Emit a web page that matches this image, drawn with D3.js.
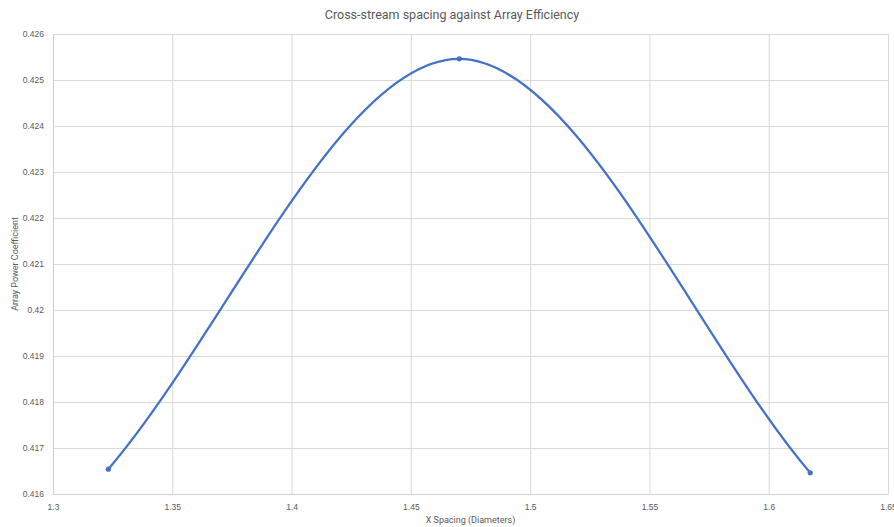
<!DOCTYPE html>
<html>
<head>
<meta charset="utf-8">
<script src="https://cdn.jsdelivr.net/npm/d3@7"></script>
<style>
  body { margin: 0; background: #fff; }
  svg { display: block; font-family: "Roboto", "Liberation Sans", sans-serif; }
  .grid line { stroke: #d9d9d9; stroke-width: 1; }
  .grid .domain { display: none; }
  .axis text { fill: #595959; font-size: 8.5px; }
</style>
</head>
<body>
<svg></svg>
<script>
var width = 894;
var height = 527;
var margin = { top: 34, right: 6, bottom: 33, left: 53 };

// data
var xSpacing = [1.3232, 1.4703, 1.6174];
var powerCoeff = [0.41654, 0.42546, 0.41646];
var xTicks = [1.3, 1.35, 1.4, 1.45, 1.5, 1.55, 1.6, 1.65];
var yTicks = [0.416, 0.417, 0.418, 0.419, 0.42, 0.421, 0.422, 0.423, 0.424, 0.425, 0.426];

var points = xSpacing.map((x, i) => ({ x: x, y: powerCoeff[i] }));

var svg = d3.select("svg")
            .attr("width", width)
            .attr("height", height);

var xScale = d3.scaleLinear()
                .domain([1.3, 1.65])
                .range([margin.left, width - margin.right]);

var yScale = d3.scaleLinear()
                .domain([0.416, 0.426])
                .range([height - margin.bottom, margin.top]);

// gridlines
svg.append("g")
    .attr("class", "grid")
    .attr("transform", "translate(0," + (height - margin.bottom) + ")")
    .call(d3.axisBottom(xScale).tickValues(xTicks)
      .tickSize(-(height - margin.top - margin.bottom)).tickFormat(""));

svg.append("g")
    .attr("class", "grid")
    .attr("transform", "translate(" + margin.left + ",0)")
    .call(d3.axisLeft(yScale).tickValues(yTicks)
      .tickSize(-(width - margin.left - margin.right)).tickFormat(""));

// axes
svg.append("g")
    .attr("class", "axis")
    .attr("transform", "translate(0," + (height - margin.bottom) + ")")
    .call(d3.axisBottom(xScale).tickValues(xTicks).tickSize(0).tickPadding(10)
      .tickFormat(d => String(+d.toFixed(2))));

svg.append("g")
    .attr("class", "axis")
    .attr("transform", "translate(" + margin.left + ",0)")
    .call(d3.axisLeft(yScale).tickValues(yTicks).tickSize(0).tickPadding(9)
      .tickFormat(d => String(+d.toFixed(3))));

svg.selectAll(".axis .domain").attr("stroke", "#d0d0d0").attr("stroke-width", 1);

// spreadsheet-style smoothing: catmull-rom with reflected end points
function smoothPath(pts) {
  var p = pts.map(d => [xScale(d.x), yScale(d.y)]);
  var n = p.length;
  var first = [2 * p[0][0] - p[1][0], 2 * p[0][1] - p[1][1]];
  var last = [2 * p[n - 1][0] - p[n - 2][0], 2 * p[n - 1][1] - p[n - 2][1]];
  var ext = [first].concat(p, [last]);
  var path = d3.path();
  path.moveTo(p[0][0], p[0][1]);
  for (var i = 0; i < n - 1; i++) {
    var a = ext[i], b = ext[i + 1], c = ext[i + 2], e = ext[i + 3];
    path.bezierCurveTo(
      b[0] + (c[0] - a[0]) / 6, b[1] + (c[1] - a[1]) / 6,
      c[0] - (e[0] - b[0]) / 6, c[1] - (e[1] - b[1]) / 6,
      c[0], c[1]);
  }
  return path.toString();
}

svg.append("path")
    .attr("fill", "none")
    .attr("stroke", "#4472c4")
    .attr("stroke-width", 2.25)
    .attr("stroke-linecap", "round")
    .attr("d", smoothPath(points));

svg.selectAll(".pt")
    .data(points)
    .enter()
    .append("circle")
      .attr("class", "pt")
      .attr("cx", d => xScale(d.x))
      .attr("cy", d => yScale(d.y))
      .attr("r", 2.6)
      .attr("fill", "#4472c4");

// title and axis titles
svg.append("text")
    .attr("x", width / 2 + 5)
    .attr("y", 19)
    .attr("text-anchor", "middle")
    .attr("fill", "#595959")
    .attr("font-size", "12.5px")
    .text("Cross-stream spacing against Array Efficiency");

svg.append("text")
    .attr("x", (margin.left + width - margin.right) / 2)
    .attr("y", 523)
    .attr("text-anchor", "middle")
    .attr("fill", "#595959")
    .attr("font-size", "9px")
    .text("X Spacing (Diameters)");

svg.append("text")
    .attr("transform", "rotate(-90)")
    .attr("x", -(margin.top + height - margin.bottom) / 2)
    .attr("y", 18)
    .attr("text-anchor", "middle")
    .attr("fill", "#595959")
    .attr("font-size", "9px")
    .text("Array Power Coefficient");
</script>
</body>
</html>
